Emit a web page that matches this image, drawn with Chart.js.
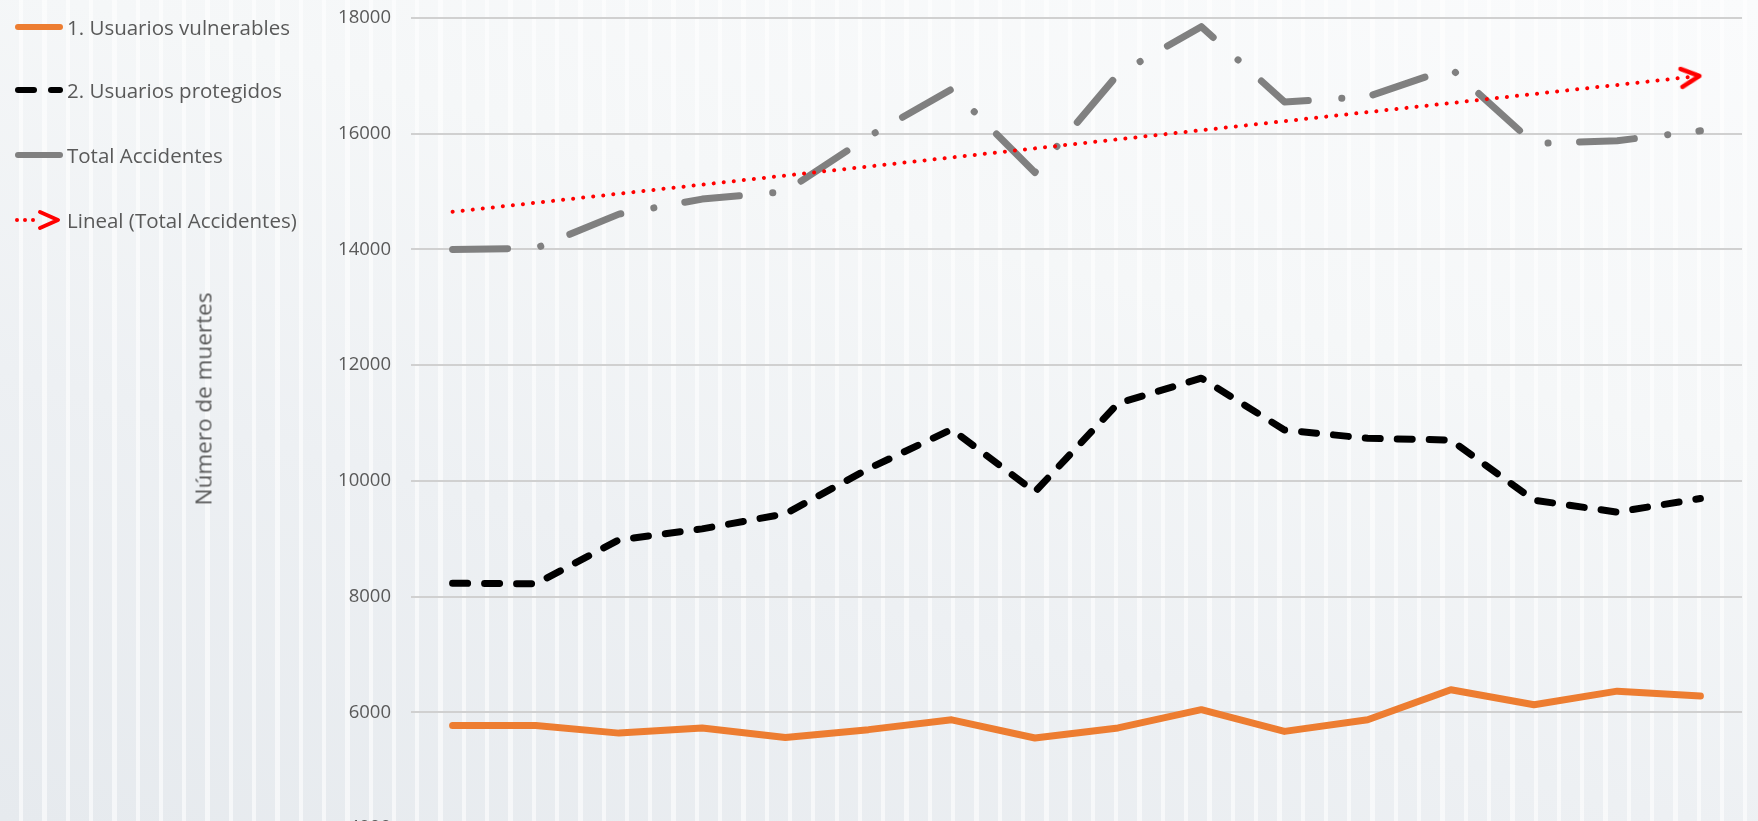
<!DOCTYPE html>
<html>
<head>
<meta charset="utf-8">
<script src="https://cdn.jsdelivr.net/npm/chart.js@4.4.1/dist/chart.umd.min.js"></script>
<style>
  html, body { margin: 0; width: 1758px; height: 821px; overflow: hidden; }
  body {
    position: relative;
    font-family: "Open Sans", sans-serif;
    color: #595959;
    background:
      repeating-linear-gradient(90deg, rgba(255,255,255,0) 0px, rgba(255,255,255,0) 19px, rgba(255,255,255,0.6) 19px, rgba(255,255,255,0.6) 23.3px),
      linear-gradient(15deg, #e6eaee 0%, #edf0f3 35%, #f5f7f8 65%, #fafbfc 100%);
  }
  #chart { position: absolute; left: 0; top: 0; }
  #legendLines { position: absolute; left: 0; top: 0; }
  .leg { position: absolute; left: 67px; font-size: 20.5px; line-height: 24px; white-space: nowrap; transform: translateY(-50%); }
  #yTitle {
    position: absolute; left: 203px; top: 399px; font-size: 22.5px; white-space: nowrap;
    transform: translate(-50%, -50%) rotate(-90deg);
  }
</style>
</head>
<body>
<canvas id="chart" width="1758" height="860"></canvas>

<!-- leyenda a la izquierda -->
<svg id="legendLines" width="80" height="240">
  <line x1="18" y1="27" x2="60" y2="27" stroke="#ED7D31" stroke-width="6" stroke-linecap="round"/>
  <line x1="18" y1="90" x2="34" y2="90" stroke="#000" stroke-width="6" stroke-linecap="round"/>
  <line x1="51" y1="90" x2="60" y2="90" stroke="#000" stroke-width="6" stroke-linecap="round"/>
  <line x1="18" y1="155" x2="60" y2="155" stroke="#808080" stroke-width="6" stroke-linecap="round"/>
  <g fill="#FF0000">
    <circle cx="17" cy="220" r="2"/><circle cx="25" cy="220" r="2"/><circle cx="33" cy="220" r="2"/>
  </g>
  <polyline points="40,212 58,220 40,228" fill="none" stroke="#FF0000" stroke-width="4" stroke-linejoin="round" stroke-linecap="round"/>
</svg>
<div class="leg" style="top:27px">1. Usuarios vulnerables</div>
<div class="leg" style="top:90px">2. Usuarios protegidos</div>
<div class="leg" style="top:155px">Total Accidentes</div>
<div class="leg" style="top:220px">Lineal (Total Accidentes)</div>
<div id="yTitle">Número de muertes</div>

<script>
// Datos (16 periodos, etiquetas del eje X fuera de la imagen)
const periodos = ['1', '2', '3', '4', '5', '6', '7', '8', '9', '10', '11', '12', '13', '14', '15', '16'];
const vulnerables = [5770, 5770, 5640, 5730, 5565, 5700, 5870, 5555, 5730, 6045, 5670, 5870, 6390, 6130, 6365, 6280];
const protegidos = [8230, 8220, 8980, 9170, 9430, 10210, 10890, 9810, 11340, 11775, 10880, 10735, 10705, 9665, 9460, 9695];
const totalAccidentes = [14000, 14020, 14610, 14870, 15000, 15950, 16770, 15330, 17030, 17850, 16550, 16640, 17130, 15830, 15880, 16050];
// extremos de la línea de tendencia (inicio, fin)
const tendenciaExtremos = [14650, 17000];
const yTicks = [4000, 6000, 8000, 10000, 12000, 14000, 16000, 18000];

const ultimo = periodos.length - 1;
const tendencia = periodos.map((p, i) => i === 0 ? tendenciaExtremos[0] : (i === ultimo ? tendenciaExtremos[1] : null));

// flecha abierta roja para el final de la tendencia (punta en el centro)
const flecha = document.createElement('canvas');
flecha.width = 48; flecha.height = 26;
const fctx = flecha.getContext('2d');
fctx.strokeStyle = '#FF0000';
fctx.lineWidth = 4.5;
fctx.lineCap = 'round';
fctx.lineJoin = 'round';
fctx.beginPath();
fctx.moveTo(5, 4);
fctx.lineTo(23, 13);
fctx.lineTo(5, 22);
fctx.stroke();

const ctx = document.getElementById('chart').getContext('2d');
new Chart(ctx, {
  type: 'line',
  data: {
    labels: periodos,
    datasets: [
      {
        label: 'Lineal (Total Accidentes)',
        data: tendencia,
        spanGaps: true,
        borderColor: '#FF0000',
        borderWidth: 4,
        borderDash: [0.1, 10],
        borderCapStyle: 'round',
        pointRadius: c => c.dataIndex === ultimo ? 12 : 0,
        pointStyle: flecha,
        pointRotation: c => {
          const xs = c.chart.scales.x, ys = c.chart.scales.y;
          if (!xs || !ys) return 0;
          const dx = xs.getPixelForValue(ultimo) - xs.getPixelForValue(0);
          const dy = ys.getPixelForValue(tendenciaExtremos[1]) - ys.getPixelForValue(tendenciaExtremos[0]);
          return Math.atan2(dy, dx) * 180 / Math.PI;
        },
        order: 0
      },
      {
        label: 'Total Accidentes',
        data: totalAccidentes,
        borderColor: '#808080',
        borderWidth: 7,
        borderDash: [55, 33.5, 0.1, 31.4],
        borderCapStyle: 'round',
        borderJoinStyle: 'round',
        pointRadius: 0,
        tension: 0,
        order: 1
      },
      {
        label: '2. Usuarios protegidos',
        data: protegidos,
        borderColor: '#000000',
        borderWidth: 7,
        borderDash: [15, 17],
        borderCapStyle: 'round',
        borderJoinStyle: 'round',
        pointRadius: 0,
        order: 2
      },
      {
        label: '1. Usuarios vulnerables',
        data: vulnerables,
        borderColor: '#ED7D31',
        borderWidth: 7,
        borderCapStyle: 'round',
        borderJoinStyle: 'round',
        pointRadius: 0,
        order: 3
      }
    ]
  },
  options: {
    responsive: false,
    animation: false,
    layout: { padding: { top: 18, right: 6, bottom: 32, left: 0 } },
    plugins: { legend: { display: false }, tooltip: { enabled: false } },
    scales: {
      x: { display: false, offset: true },
      y: {
        min: 4000,
        max: 18000,
        afterBuildTicks: s => { s.ticks = yTicks.map(v => ({ value: v })); },
        afterFit: s => { s.width = 411; },
        border: { display: false },
        // separación de etiquetas con marcas invisibles (el padding de ticks añade margen arriba)
        grid: { color: '#d0d0d0', lineWidth: 2, drawTicks: true, tickLength: 20, tickColor: 'rgba(0,0,0,0)' },
        ticks: {
          padding: 0,
          color: '#595959',
          font: { family: 'Open Sans', size: 18.5 },
          callback: v => String(v)
        }
      }
    }
  }
});
</script>
</body>
</html>
